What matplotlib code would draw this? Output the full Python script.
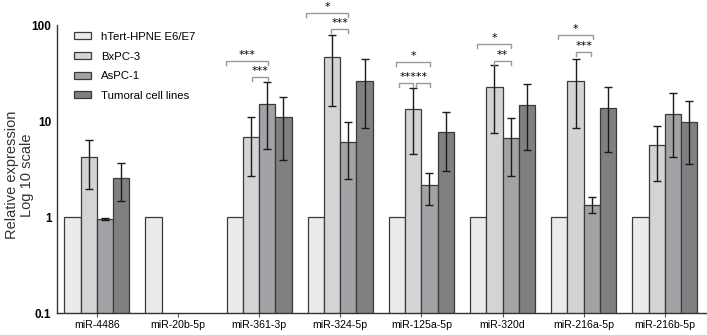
import numpy as np
import matplotlib
matplotlib.use("Agg")
import matplotlib.pyplot as plt

nan = np.nan
categories = ['miR-4486', 'miR-20b-5p', 'miR-361-3p', 'miR-324-5p',
              'miR-125a-5p', 'miR-320d', 'miR-216a-5p', 'miR-216b-5p']
series_names = ['hTert-HPNE E6/E7', 'BxPC-3', 'AsPC-1', 'Tumoral cell lines']

htert = [1, 1, 1, 1, 1, 1, 1, 1]
bxpc3 = [4.2, nan, 6.8, 46, 13.3, 22.6, 26, 5.6]
bxpc3_lo = [1.95, nan, 2.7, 14.3, 4.5, 7.5, 8.5, 2.37]
bxpc3_hi = [6.3, nan, 11, 78.7, 22, 38, 44, 8.9]
aspc1 = [0.95, nan, 15, 6.0, 2.15, 6.65, 1.33, 11.8]
aspc1_lo = [0.93, nan, 5.1, 2.5, 1.33, 2.67, 1.1, 4.2]
aspc1_hi = [0.98, nan, 25.5, 9.8, 2.9, 10.7, 1.6, 19.6]
tumoral = [2.55, nan, 11, 26, 7.7, 14.7, 13.6, 9.8]
tumoral_lo = [1.47, nan, 3.9, 8.5, 3.0, 5.0, 4.75, 3.6]
tumoral_hi = [3.65, nan, 17.8, 44, 12.4, 24.3, 22.6, 16.2]

# significance annotations: (group, x_start_offset, x_end_offset, y_value, label)
brackets = [
    (2, -0.41, 0.11, 42.0, '***'),
    (2, -0.09, 0.11, 28.7, '***'),
    (3, -0.42, 0.10, 133.0, '*'),
    (3, -0.11, 0.10, 90.8, '***'),
    (4, -0.31, 0.11, 41.2, '*'),
    (4, -0.28, -0.10, 24.9, None),
    (4, -0.07, 0.11, 24.9, None),
    (5, -0.32, 0.11, 63.4, '*'),
    (5, -0.11, 0.10, 42.2, '**'),
    (6, -0.31, 0.11, 78.7, '*'),
    (6, -0.09, 0.09, 52.3, '***'),
]
extra_labels = [(4, -0.09, 24.9, '*****')]

colors = ['#ebebeb', '#d4d4d4', '#a3a3a7', '#808080']

plt.rcParams['font.family'] = ['Liberation Sans', 'DejaVu Sans']

fig = plt.figure(figsize=(7.07, 3.35), dpi=100)
ax = fig.add_axes([57/707, 22/335, 650/707, 288/335])

x = np.arange(len(categories))
w = 0.2
vals = [htert, bxpc3, aspc1, tumoral]
los = [None, bxpc3_lo, aspc1_lo, tumoral_lo]
his = [None, bxpc3_hi, aspc1_hi, tumoral_hi]
offsets = [-1.5*w, -0.5*w, 0.5*w, 1.5*w]
for i in range(4):
    v = np.array(vals[i], dtype=float)
    ax.bar(x + offsets[i], v, width=w, color=colors[i], edgecolor='#3a3a3a',
           linewidth=0.9, label=series_names[i], zorder=2)
    if los[i] is not None:
        lo = np.array(los[i], dtype=float)
        hi = np.array(his[i], dtype=float)
        err = np.vstack([v - lo, hi - v])
        ax.errorbar(x + offsets[i], v, yerr=err, fmt='none', ecolor='#1a1a1a',
                    elinewidth=1.0, capsize=3, capthick=1.0, zorder=3)

ax.set_yscale('log')
ax.set_ylim(0.1, 100)
ax.set_xlim(-0.49, 7.52)
ax.set_yticks([0.1, 1, 10, 100])
ax.set_yticklabels(['0.1', '1', '10', '100'], fontweight='bold', fontsize=8.5)
ax.yaxis.set_minor_locator(matplotlib.ticker.NullLocator())
ax.tick_params(axis='y', length=0, pad=4)
ax.set_xticks(x)
ax.set_xticklabels(categories, fontsize=7.6)
ax.tick_params(axis='x', length=3, width=0.8, color='#555555', pad=2)
for s in ['top', 'right']:
    ax.spines[s].set_visible(False)
for s in ['left', 'bottom']:
    ax.spines[s].set_color('#333333')
    ax.spines[s].set_linewidth(1.0)

ax.set_ylabel('Relative expression\nLog 10 scale', fontsize=10.5, color='#333333',
              linespacing=1.05)
ax.yaxis.set_label_coords(-0.036, 0.48)

drop = 10 ** (-4 / 96)
for g, x0, x1, yv, lab in brackets:
    xs = [g + x0, g + x0, g + x1, g + x1]
    ys = [yv * drop, yv, yv, yv * drop]
    ax.plot(xs, ys, color='#9a9a9a', lw=1.0, clip_on=False, zorder=4)
    if lab:
        ax.annotate(lab, xy=(g + (x0 + x1) / 2, yv), xytext=(0, 1),
                    textcoords='offset points', ha='center', va='bottom',
                    fontsize=8, family='DejaVu Sans', annotation_clip=False)
for g, xo, yv, lab in extra_labels:
    ax.annotate(lab, xy=(g + xo, yv), xytext=(0, 1), textcoords='offset points',
                ha='center', va='bottom', fontsize=8, family='DejaVu Sans',
                annotation_clip=False)

leg = ax.legend(loc='upper left', bbox_to_anchor=(0.015, 1.0), frameon=False,
                fontsize=8.2, handlelength=1.5, handleheight=0.6,
                handletextpad=0.9, labelspacing=0.85, borderaxespad=0.2)

fig.savefig('out.png', dpi=100)
